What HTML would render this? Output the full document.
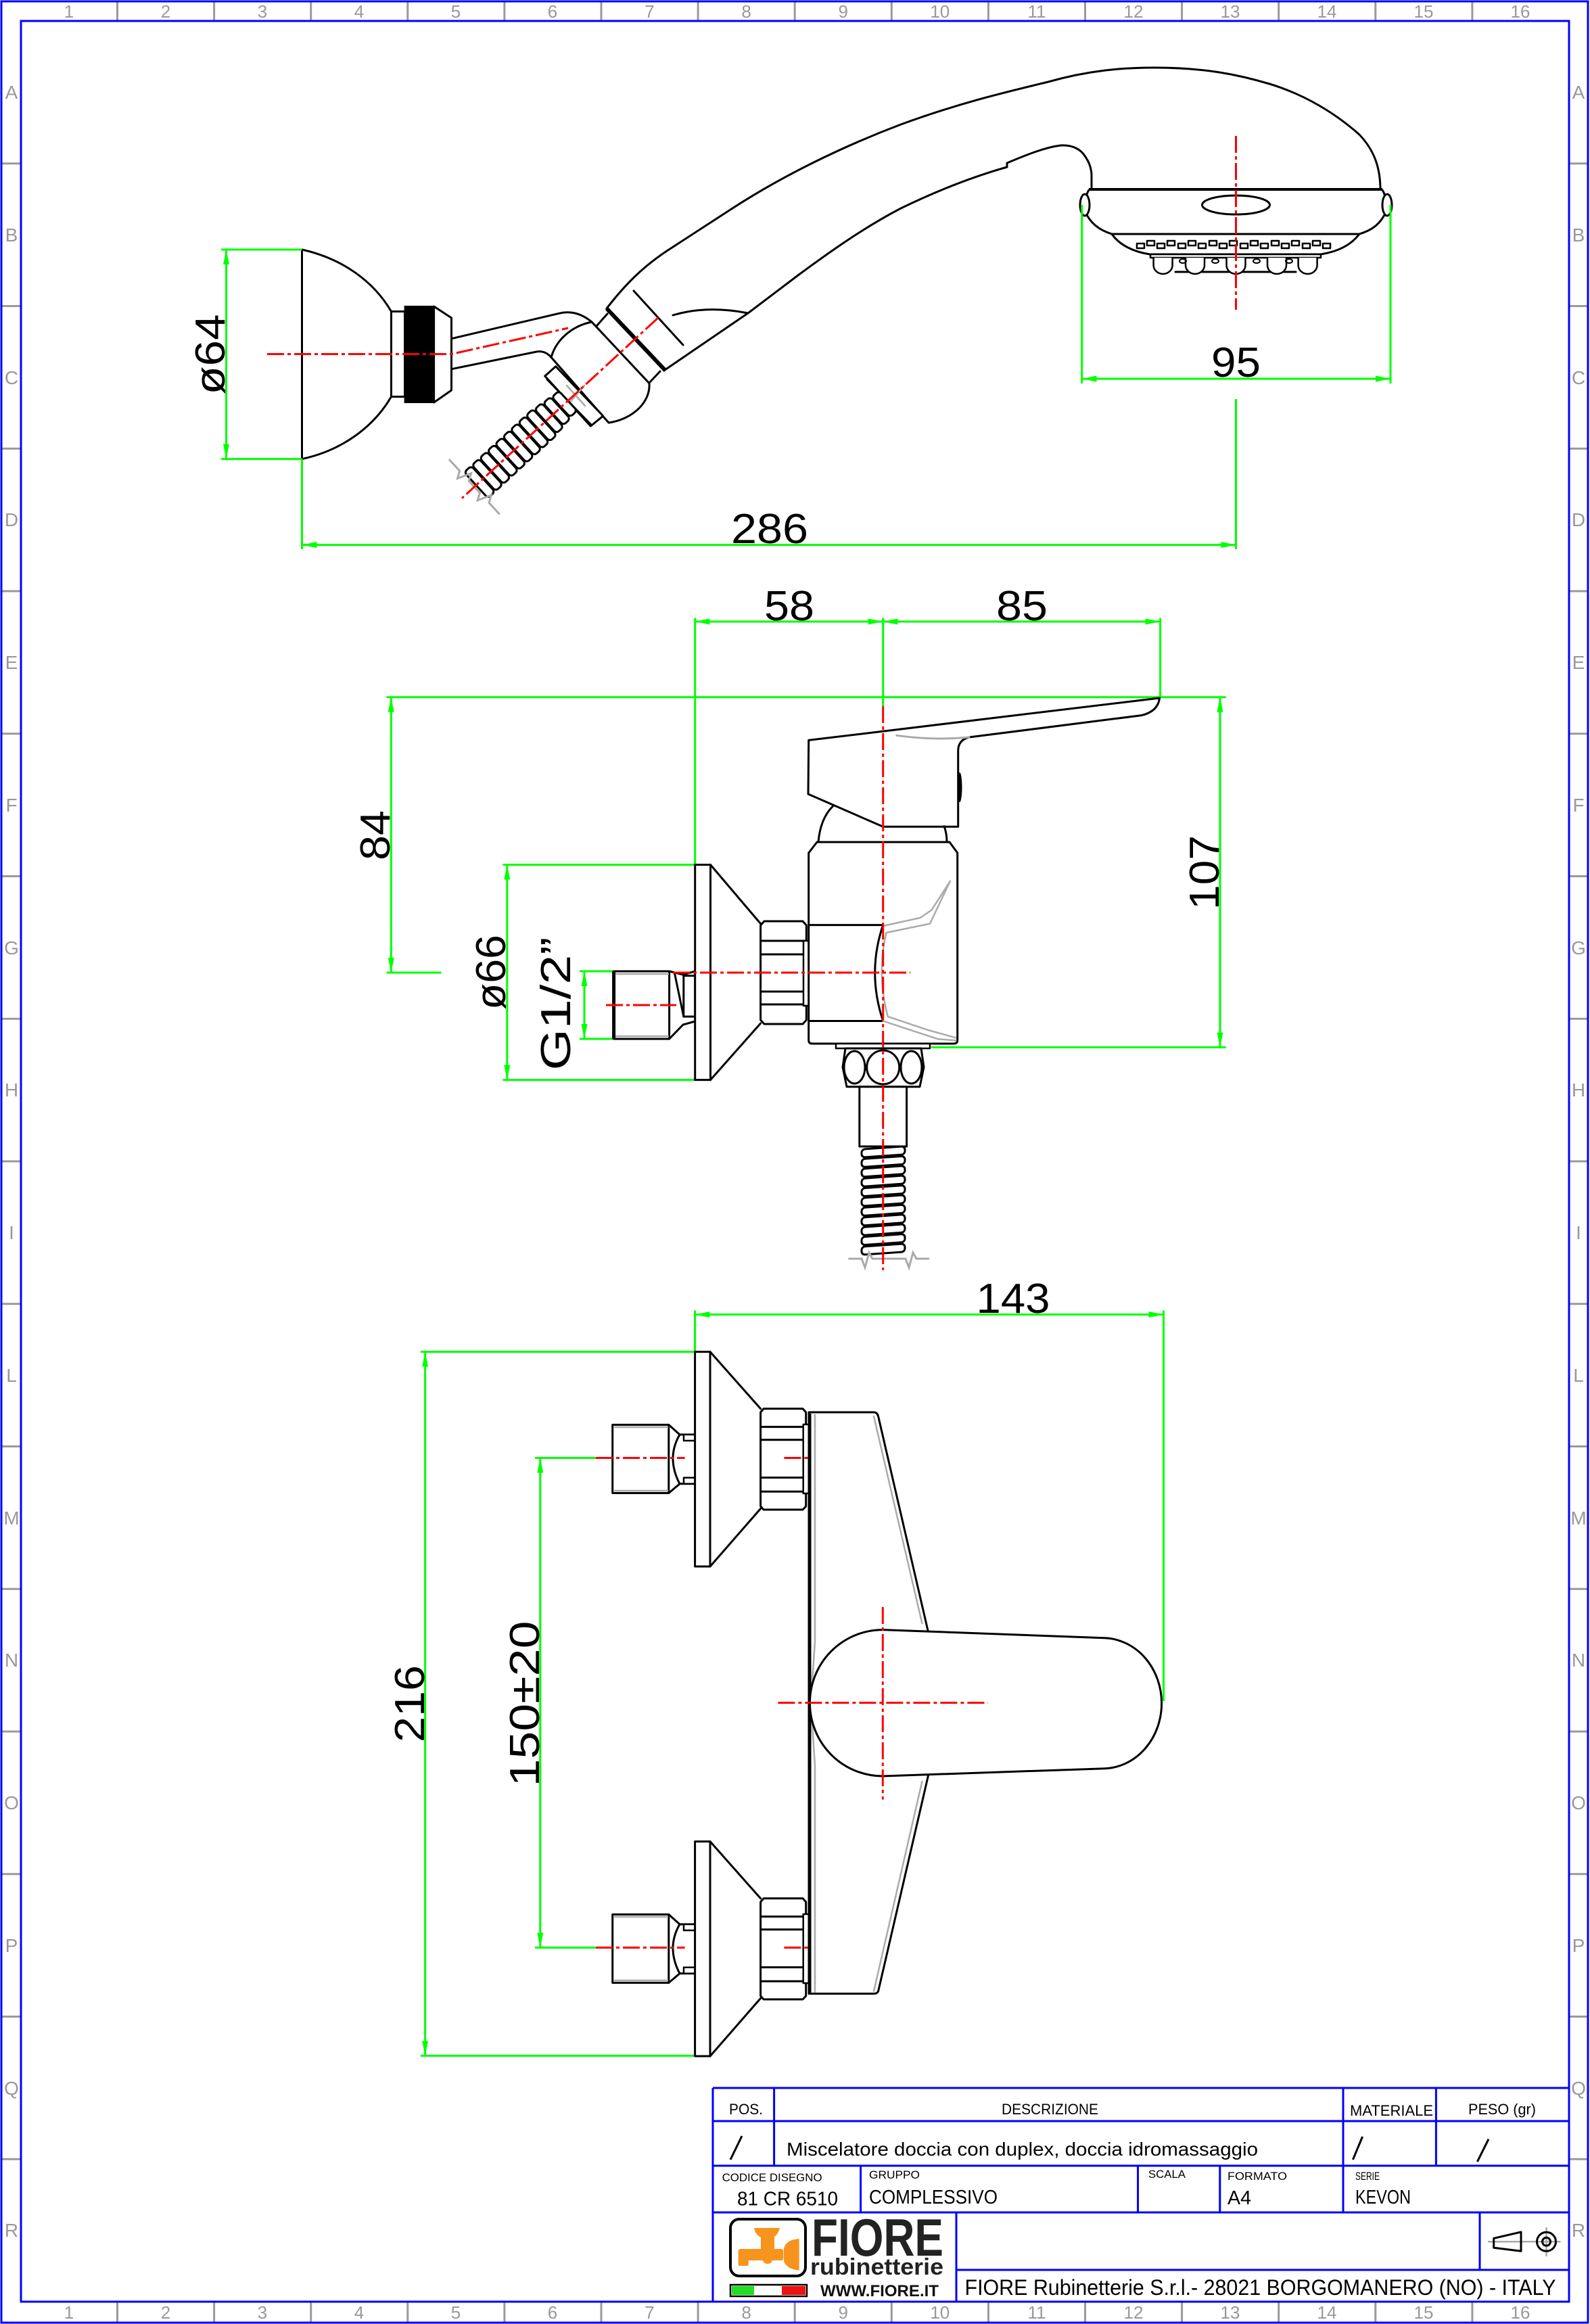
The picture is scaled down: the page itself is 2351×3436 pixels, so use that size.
<!DOCTYPE html>
<html>
<head>
<meta charset="utf-8">
<style>
html,body{margin:0;padding:0;background:#fff;}
svg{display:block;}
.k{fill:none;stroke:#000;stroke-width:3;stroke-linejoin:round;stroke-linecap:round;}
.kw{fill:#fff;stroke:#000;stroke-width:3;stroke-linejoin:round;}
.g{fill:none;stroke:#aaa;stroke-width:3;stroke-linecap:round;}
.r{fill:none;stroke:#ff0000;stroke-width:3;stroke-dasharray:25 5 5 5;}
.d{fill:none;stroke:#00ff00;stroke-width:3;}
.da{fill:none;stroke:#00ff00;stroke-width:3;marker-start:url(#ar);marker-end:url(#ar);}
.dt{font-family:"Liberation Sans",sans-serif;font-size:62px;fill:#000;}
.rl{font-family:"Liberation Sans",sans-serif;font-size:26px;fill:#999;text-anchor:middle;}
.rs{font-family:"Liberation Sans",sans-serif;font-size:28px;fill:#999;text-anchor:middle;}
.tb{font-family:"Liberation Sans Narrow","Liberation Sans",sans-serif;fill:#000;}
.bl{fill:none;stroke:#0000ff;stroke-width:3;}
.gt{stroke:#999;stroke-width:3;}
</style>
</head>
<body>
<svg width="2351" height="3436" viewBox="0 0 2351 3436" xmlns="http://www.w3.org/2000/svg">
<defs>
<marker id="ar" viewBox="0 0 22 9" refX="22" refY="4.5" markerWidth="22" markerHeight="9" markerUnits="userSpaceOnUse" orient="auto-start-reverse">
<path d="M0,0 L22,4.5 L0,9 z" fill="#00ff00"/>
</marker>
</defs>
<rect x="0" y="0" width="2351" height="3436" fill="#fff"/>

<!-- ===== FRAME ===== -->
<g class="gt">
<line x1="173.5" y1="2" x2="173.5" y2="31"/><line x1="316.6" y1="2" x2="316.6" y2="31"/><line x1="459.7" y1="2" x2="459.7" y2="31"/><line x1="602.8" y1="2" x2="602.8" y2="31"/><line x1="745.9" y1="2" x2="745.9" y2="31"/><line x1="889" y1="2" x2="889" y2="31"/><line x1="1032.1" y1="2" x2="1032.1" y2="31"/><line x1="1175.2" y1="2" x2="1175.2" y2="31"/><line x1="1318.3" y1="2" x2="1318.3" y2="31"/><line x1="1461.4" y1="2" x2="1461.4" y2="31"/><line x1="1604.5" y1="2" x2="1604.5" y2="31"/><line x1="1747.6" y1="2" x2="1747.6" y2="31"/><line x1="1890.7" y1="2" x2="1890.7" y2="31"/><line x1="2033.8" y1="2" x2="2033.8" y2="31"/><line x1="2176.9" y1="2" x2="2176.9" y2="31"/>
<line x1="173.5" y1="3403" x2="173.5" y2="3434"/><line x1="316.6" y1="3403" x2="316.6" y2="3434"/><line x1="459.7" y1="3403" x2="459.7" y2="3434"/><line x1="602.8" y1="3403" x2="602.8" y2="3434"/><line x1="745.9" y1="3403" x2="745.9" y2="3434"/><line x1="889" y1="3403" x2="889" y2="3434"/><line x1="1032.1" y1="3403" x2="1032.1" y2="3434"/><line x1="1175.2" y1="3403" x2="1175.2" y2="3434"/><line x1="1318.3" y1="3403" x2="1318.3" y2="3434"/><line x1="1461.4" y1="3403" x2="1461.4" y2="3434"/><line x1="1604.5" y1="3403" x2="1604.5" y2="3434"/><line x1="1747.6" y1="3403" x2="1747.6" y2="3434"/><line x1="1890.7" y1="3403" x2="1890.7" y2="3434"/><line x1="2033.8" y1="3403" x2="2033.8" y2="3434"/><line x1="2176.9" y1="3403" x2="2176.9" y2="3434"/>
<line x1="2" y1="241.75" x2="31" y2="241.75"/><line x1="2" y1="452.5" x2="31" y2="452.5"/><line x1="2" y1="663.25" x2="31" y2="663.25"/><line x1="2" y1="874" x2="31" y2="874"/><line x1="2" y1="1084.75" x2="31" y2="1084.75"/><line x1="2" y1="1295.5" x2="31" y2="1295.5"/><line x1="2" y1="1506.25" x2="31" y2="1506.25"/><line x1="2" y1="1717" x2="31" y2="1717"/><line x1="2" y1="1927.75" x2="31" y2="1927.75"/><line x1="2" y1="2138.5" x2="31" y2="2138.5"/><line x1="2" y1="2349.25" x2="31" y2="2349.25"/><line x1="2" y1="2560" x2="31" y2="2560"/><line x1="2" y1="2770.75" x2="31" y2="2770.75"/><line x1="2" y1="2981.5" x2="31" y2="2981.5"/><line x1="2" y1="3192.25" x2="31" y2="3192.25"/>
<line x1="2320" y1="241.75" x2="2348" y2="241.75"/><line x1="2320" y1="452.5" x2="2348" y2="452.5"/><line x1="2320" y1="663.25" x2="2348" y2="663.25"/><line x1="2320" y1="874" x2="2348" y2="874"/><line x1="2320" y1="1084.75" x2="2348" y2="1084.75"/><line x1="2320" y1="1295.5" x2="2348" y2="1295.5"/><line x1="2320" y1="1506.25" x2="2348" y2="1506.25"/><line x1="2320" y1="1717" x2="2348" y2="1717"/><line x1="2320" y1="1927.75" x2="2348" y2="1927.75"/><line x1="2320" y1="2138.5" x2="2348" y2="2138.5"/><line x1="2320" y1="2349.25" x2="2348" y2="2349.25"/><line x1="2320" y1="2560" x2="2348" y2="2560"/><line x1="2320" y1="2770.75" x2="2348" y2="2770.75"/><line x1="2320" y1="2981.5" x2="2348" y2="2981.5"/><line x1="2320" y1="3192.25" x2="2348" y2="3192.25"/>
</g>
<rect x="2" y="2" width="2346" height="3432" class="bl"/>
<rect x="31" y="31" width="2289" height="3372" class="bl"/>

<g class="rl">
<text x="102" y="26">1</text><text x="245" y="26">2</text><text x="388" y="26">3</text><text x="531" y="26">4</text><text x="674" y="26">5</text><text x="817" y="26">6</text><text x="960.5" y="26">7</text><text x="1103.6" y="26">8</text><text x="1246.7" y="26">9</text><text x="1389.8" y="26">10</text><text x="1533" y="26">11</text><text x="1676" y="26">12</text><text x="1819" y="26">13</text><text x="1962" y="26">14</text><text x="2105" y="26">15</text><text x="2248" y="26">16</text>
<text x="102" y="3428">1</text><text x="245" y="3428">2</text><text x="388" y="3428">3</text><text x="531" y="3428">4</text><text x="674" y="3428">5</text><text x="817" y="3428">6</text><text x="960.5" y="3428">7</text><text x="1103.6" y="3428">8</text><text x="1246.7" y="3428">9</text><text x="1389.8" y="3428">10</text><text x="1533" y="3428">11</text><text x="1676" y="3428">12</text><text x="1819" y="3428">13</text><text x="1962" y="3428">14</text><text x="2105" y="3428">15</text><text x="2248" y="3428">16</text>
</g>
<g class="rs">
<text x="17" y="146">A</text><text x="17" y="357">B</text><text x="17" y="568">C</text><text x="17" y="778">D</text><text x="17" y="989">E</text><text x="17" y="1200">F</text><text x="17" y="1411">G</text><text x="17" y="1621">H</text><text x="17" y="1832">I</text><text x="17" y="2043">L</text><text x="17" y="2254">M</text><text x="17" y="2464">N</text><text x="17" y="2675">O</text><text x="17" y="2886">P</text><text x="17" y="3097">Q</text><text x="17" y="3307">R</text>
<text x="2334" y="146">A</text><text x="2334" y="357">B</text><text x="2334" y="568">C</text><text x="2334" y="778">D</text><text x="2334" y="989">E</text><text x="2334" y="1200">F</text><text x="2334" y="1411">G</text><text x="2334" y="1621">H</text><text x="2334" y="1832">I</text><text x="2334" y="2043">L</text><text x="2334" y="2254">M</text><text x="2334" y="2464">N</text><text x="2334" y="2675">O</text><text x="2334" y="2886">P</text><text x="2334" y="3097">Q</text><text x="2334" y="3307">R</text>
</g>

<!-- ===== TOP VIEW: shower support + handshower ===== -->
<path class="k" d="M446.5,369 L446.5,678.6"/>
<path class="k" d="M446.5,369 C505,382 552,415 578.5,460.5 M446.5,678.6 C505,666 552,632 578.5,586.5"/>
<rect x="578.5" y="460.5" width="20" height="126" class="kw"/>
<rect x="598.6" y="453" width="43" height="142" fill="#000" stroke="#000" stroke-width="2"/>
<path class="kw" d="M641.6,453 L667.5,470 L667.5,577 L641.6,595 Z"/>
<path class="k" d="M667.5,500.7 L826.7,463.3 Q852,457 875,476"/>
<path class="k" d="M667.5,545.7 L793.3,520 Q806,518 815,528.3"/>
<path class="k" d="M815,528.3 C822,503 845,482 875,476 L960,566.7 C962,595 935,620 900,625 L815,528.3"/>
<path class="kw" d="M805.7,556 L821.7,541.7 L891.7,615 L873.3,630 Z"/>
<path class="k" d="M809,561 L874,628"/>
<path class="g" d="M838,570 L865,600 M864,570 L838,600" style="stroke-width:2.5"/>
<path class="k" d="M882,482 L898,464 M960,566 L976,549"/>
<path d="M897,456 L984,548" stroke="#000" stroke-width="6" fill="none"/>
<path class="k" d="M897,456 C925,420 950,395 986,371 L1083,308 C1160,258 1250,215 1332,184 C1420,152 1480,138 1550,121 C1610,104 1660,100 1707,100 C1780,100 1830,110 1877,124 C1930,140 1975,168 2010,199 C2030,220 2041,245 2041,280"/>
<path class="k" d="M983,547 L1106,463 L1180,407 C1230,370 1280,335 1332,308 C1400,275 1450,258 1489,247 L1489,241 C1520,228 1545,218 1568,215 C1585,214 1598,220 1605,232 C1612,242 1614,252 1614,260 L1614,280"/>
<path class="k" d="M937,430 L1010,510"/>
<path class="k" d="M995,466 Q1045,451 1106,463"/>
<path d="M1610,280 L2044,280" stroke="#000" stroke-width="4"/>
<path class="k" d="M1610,281 C1604,290 1606,300 1604,312 C1612,330 1625,340 1644,346 L2010,346 C2030,340 2042,330 2050,312 C2048,300 2050,290 2044,281"/>
<ellipse cx="1604" cy="303" rx="7" ry="16" class="kw"/>
<ellipse cx="2051" cy="303" rx="7" ry="16" class="kw"/>
<ellipse cx="1827.5" cy="303" rx="50" ry="14" class="k"/>
<path class="k" d="M1644,346 C1655,362 1675,372 1700,376 L1953,376 C1978,372 1998,362 2010,346"/>
<g class="k" style="stroke-width:2.5">
<rect x="1681" y="360" width="11" height="7"/><rect x="1696" y="356" width="11" height="7"/><rect x="1711" y="360" width="11" height="7"/><rect x="1726" y="356" width="11" height="7"/><rect x="1742" y="360" width="11" height="7"/><rect x="1757" y="356" width="11" height="7"/><rect x="1772" y="360" width="11" height="7"/><rect x="1788" y="356" width="11" height="7"/><rect x="1803" y="360" width="11" height="7"/><rect x="1818" y="356" width="11" height="7"/><rect x="1834" y="360" width="11" height="7"/><rect x="1849" y="356" width="11" height="7"/><rect x="1864" y="360" width="11" height="7"/><rect x="1880" y="356" width="11" height="7"/><rect x="1895" y="360" width="11" height="7"/><rect x="1910" y="356" width="11" height="7"/><rect x="1926" y="360" width="11" height="7"/><rect x="1941" y="356" width="11" height="7"/><rect x="1956" y="360" width="11" height="7"/>
</g>
<rect x="1701" y="376" width="252" height="5" class="kw" style="stroke-width:2.5"/>
<path class="k" d="M1738,402 L1916,402"/>
<g class="kw" style="stroke-width:2.5">
<path d="M1705.6,381 v11 a14,13 0 0 0 28,0 v-11"/>
<path d="M1753,381 v11 a14,13 0 0 0 28,0 v-11"/>
<path d="M1813.5,381 v11 a14,13 0 0 0 28,0 v-11"/>
<path d="M1874,381 v11 a14,13 0 0 0 28,0 v-11"/>
<path d="M1919.6,381 v11 a14,13 0 0 0 28,0 v-11"/>
</g>
<g class="k" style="stroke-width:2">
<ellipse cx="1749" cy="386" rx="5" ry="3"/><ellipse cx="1797" cy="386" rx="5" ry="3"/><ellipse cx="1858" cy="386" rx="5" ry="3"/><ellipse cx="1906" cy="386" rx="5" ry="3"/>
</g>
<g transform="translate(973,470) rotate(137.4)">
<g class="kw">
<rect x="181" y="-20" width="14" height="40" rx="5"/>
<rect x="196.5" y="-22" width="14" height="44" rx="5"/>
<rect x="212" y="-24" width="14" height="48" rx="5"/>
<rect x="227.5" y="-26" width="14" height="52" rx="5"/>
<rect x="243" y="-26" width="14" height="52" rx="5"/>
<rect x="258.5" y="-26" width="14" height="52" rx="5"/>
<rect x="274" y="-26" width="14" height="52" rx="5"/>
<rect x="289.5" y="-26" width="14" height="52" rx="5"/>
<rect x="305" y="-26" width="14" height="52" rx="5"/>
<rect x="320.5" y="-26" width="14" height="52" rx="5"/>
<rect x="336" y="-26" width="14" height="52" rx="5"/>
<rect x="351.5" y="-26" width="14" height="52" rx="5"/>
</g>
<path class="g" d="M369,-54 L369,-32 L359,-26 L379,-18 L369,-12 L369,12 L359,18 L379,26 L369,32 L369,54"/>
<line x1="0" y1="0" x2="394" y2="0" class="r"/>
</g>
<path class="r" d="M395,523.5 L667.5,523.5 L840,485"/>
<line x1="1827.5" y1="201" x2="1827.5" y2="458" class="r"/>
<path class="d" d="M327,369 L446.5,369 M327,678.6 L446.5,678.6 M446.5,678.6 L446.5,812 M1827.5,590 L1827.5,812 M1599.7,303 L1599.7,567 M2056,303 L2056,567"/>
<line x1="334.5" y1="369" x2="334.5" y2="678.6" class="da"/>
<line x1="1599.7" y1="560" x2="2056" y2="560" class="da"/>
<line x1="446.5" y1="805.6" x2="1827.5" y2="805.6" class="da"/>
<text class="dt" x="1827.5" y="557" text-anchor="middle" textLength="73" lengthAdjust="spacingAndGlyphs">95</text>
<text class="dt" x="1138" y="803" text-anchor="middle" textLength="114" lengthAdjust="spacingAndGlyphs">286</text>
<text class="dt" transform="translate(332,524) rotate(-90)" text-anchor="middle" textLength="119" lengthAdjust="spacingAndGlyphs">ø64</text>

<!-- ===== MIDDLE VIEW: side ===== -->
<path class="d" d="M1027.7,913.6 L1027.7,1278.5 M1305.7,913.6 L1305.7,1044 M1715.6,913.6 L1715.6,1030.8 M571.5,1030.8 L1812.7,1030.8 M571.5,1438 L652.4,1438 M1377,1548.4 L1812.7,1548.4 M743.5,1278.5 L1027.7,1278.5 M743.5,1596.6 L1027.7,1596.6 M857,1436 L907.6,1436 M857,1536 L907.6,1536"/>
<line x1="1027.7" y1="919" x2="1305.7" y2="919" class="da"/>
<line x1="1305.7" y1="919" x2="1715.6" y2="919" class="da"/>
<line x1="578.3" y1="1030.8" x2="578.3" y2="1438" class="da"/>
<line x1="1804" y1="1030.8" x2="1804" y2="1548.4" class="da"/>
<line x1="749.8" y1="1278.5" x2="749.8" y2="1596.6" class="da"/>
<line x1="864" y1="1436" x2="864" y2="1536" class="da"/>
<text class="dt" x="1167" y="917" text-anchor="middle" textLength="74" lengthAdjust="spacingAndGlyphs">58</text>
<text class="dt" x="1511" y="917" text-anchor="middle" textLength="76" lengthAdjust="spacingAndGlyphs">85</text>
<text class="dt" transform="translate(576,1235) rotate(-90)" text-anchor="middle" textLength="74" lengthAdjust="spacingAndGlyphs">84</text>
<text class="dt" transform="translate(1802,1290) rotate(-90)" text-anchor="middle" textLength="110" lengthAdjust="spacingAndGlyphs">107</text>
<text class="dt" transform="translate(747,1437.5) rotate(-90)" text-anchor="middle" textLength="111" lengthAdjust="spacingAndGlyphs">ø66</text>
<text class="dt" transform="translate(843,1484) rotate(-90)" text-anchor="middle" textLength="197" lengthAdjust="spacingAndGlyphs">G1/2”</text>
<rect x="907.6" y="1436" width="82" height="100" class="kw"/>
<line x1="907.6" y1="1436" x2="907.6" y2="1536" stroke="#000" stroke-width="5"/>
<path class="g" d="M911,1440 L988,1440 M911,1532 L988,1532" style="stroke-width:2.5"/>
<path class="k" d="M989.6,1436 L1010,1441 L1027.7,1436 M989.6,1536 L1010,1515 L1027.7,1510 M997.5,1439 L1010.8,1503"/>
<rect x="1010.8" y="1442.6" width="17" height="60.4" class="kw"/>
<rect x="1027.7" y="1278.5" width="22.8" height="318.1" class="kw"/>
<path class="k" d="M1050.5,1278.5 L1124.6,1365.6 M1050.5,1596.6 L1124.6,1513"/>
<path class="kw" d="M1130,1362 L1187,1362 L1192.3,1368 L1192.3,1508 L1187,1514 L1130,1514 L1124.6,1508 L1124.6,1368 Z"/>
<path class="k" d="M1126,1391 L1191,1391 M1126,1411 L1191,1411 M1126,1466 L1191,1466 M1126,1485 L1191,1485"/>
<rect x="1188" y="1391" width="9.6" height="96" class="kw" style="stroke-width:2.5"/>
<path class="kw" d="M1195.7,1094.4 L1714.6,1032 Q1712,1052 1688,1057.6 L1433,1090 Q1416.7,1094 1416.7,1110 L1416.7,1222.3 L1305.7,1222.3 L1195,1174 Z"/>
<ellipse cx="1419" cy="1164" rx="3.5" ry="22" fill="#000"/>
<path class="g" d="M1325.7,1087.3 Q1380,1095 1433,1090"/>
<path class="k" d="M1210,1245 Q1213,1210 1231.7,1191.7 M1396,1221.7 Q1400,1232 1400,1245"/>
<path class="kw" d="M1208,1245 L1404,1245 L1415.7,1261 L1415.7,1538 Q1415.7,1543 1410,1543 L1201,1543 Q1195.7,1543 1195.7,1538 L1195.7,1261 Z"/>
<path class="k" d="M1198,1367.6 L1305.7,1367.6 Q1281.7,1438 1305.7,1509.5 L1198,1509.5"/>
<path class="g" d="M1305.7,1369 L1360.7,1357 L1377.4,1345.5 L1405,1302.7 M1310.5,1379 L1375,1365.6 L1403.7,1305.3 M1310.5,1379 Q1296,1440 1312.8,1502.9 L1372.6,1523 L1413.3,1534.3 M1305.7,1509.5 L1387,1536.3 L1413.3,1538.3" style="stroke-width:2.5"/>
<rect x="1236" y="1543" width="139" height="7" class="kw" style="stroke-width:2.5"/>
<path class="kw" d="M1250,1550 L1362,1550 L1366,1578 L1360,1606.7 L1252,1606.7 L1246,1578 Z"/>
<ellipse cx="1263.5" cy="1578" rx="15.5" ry="24" class="k"/>
<ellipse cx="1305.7" cy="1578" rx="24" ry="25" class="k"/>
<ellipse cx="1347.5" cy="1578" rx="15.5" ry="24" class="k"/>
<rect x="1270.8" y="1606.7" width="69.8" height="88.3" class="kw"/>
<g transform="translate(1306,0) skewY(-4) translate(-1306,0)">
<g class="kw">
<rect x="1274" y="1697" width="64" height="12" rx="5"/><rect x="1274" y="1711.4" width="64" height="12" rx="5"/><rect x="1274" y="1725.8" width="64" height="12" rx="5"/><rect x="1274" y="1740.2" width="64" height="12" rx="5"/><rect x="1274" y="1754.6" width="64" height="12" rx="5"/><rect x="1274" y="1769" width="64" height="12" rx="5"/><rect x="1274" y="1783.4" width="64" height="12" rx="5"/><rect x="1274" y="1797.8" width="64" height="12" rx="5"/><rect x="1274" y="1812.2" width="64" height="12" rx="5"/><rect x="1274" y="1826.6" width="64" height="12" rx="5"/><rect x="1274" y="1841" width="64" height="12" rx="5"/>
</g>
</g>
<path class="g" d="M1255.5,1861 L1274,1861 L1279,1874 L1285,1852 L1290,1861 L1339,1861 L1344,1874 L1350,1852 L1355,1861 L1373,1861"/>
<line x1="1305.7" y1="1044" x2="1305.7" y2="1878" class="r"/>
<line x1="995" y1="1438" x2="1346" y2="1438" class="r"/>
<line x1="896" y1="1486" x2="1000" y2="1486" class="r"/>

<!-- ===== BOTTOM VIEW: front ===== -->
<path class="d" d="M1027.6,1937.4 L1027.6,1998.6 M1720.5,1937.4 L1720.5,2515 M622,1998.6 L1027.6,1998.6 M622,3039.4 L1027.6,3039.4 M791,2155.5 L881,2155.5 M791,2879.5 L881,2879.5"/>
<line x1="1027.6" y1="1943.5" x2="1720.5" y2="1943.5" class="da"/>
<line x1="628.6" y1="1998.6" x2="628.6" y2="3039.4" class="da"/>
<line x1="798.8" y1="2155.5" x2="798.8" y2="2879.5" class="da"/>
<text class="dt" x="1498" y="1941" text-anchor="middle" textLength="109" lengthAdjust="spacingAndGlyphs">143</text>
<text class="dt" transform="translate(627,2519) rotate(-90)" text-anchor="middle" textLength="114" lengthAdjust="spacingAndGlyphs">216</text>
<text class="dt" transform="translate(797,2519) rotate(-90)" text-anchor="middle" textLength="245" lengthAdjust="spacingAndGlyphs">150±20</text>

<g id="inl">
<rect x="905.7" y="2106.5" width="83.1" height="101" class="kw"/>
<path class="g" d="M909,2110 L987,2110 M909,2204 L987,2204" style="stroke-width:2.5"/>
<path class="k" d="M988.8,2106.5 L1005,2121 L1027.6,2121 M988.8,2207.5 L1005,2193.8 L1027.6,2193.8 M1005,2121 Q985,2155.5 1005,2193.8"/>
<rect x="1011" y="2121" width="16.6" height="9" class="kw" style="stroke-width:2.5"/>
<rect x="1011" y="2184.8" width="16.6" height="9" class="kw" style="stroke-width:2.5"/>
<rect x="1027.6" y="1998.6" width="22.4" height="317.4" class="kw"/>
<path class="k" d="M1050,1998.6 L1124.6,2082.8 M1050,2316 L1124.6,2230.5"/>
<path class="kw" d="M1129,2082.8 L1187,2082.8 L1191.7,2088 L1191.7,2227 L1187,2232 L1129,2232 L1124.6,2227 L1124.6,2088 Z"/>
<path class="k" d="M1126,2109.6 L1190,2109.6 M1126,2128.7 L1190,2128.7 M1126,2184.6 L1190,2184.6 M1126,2205.2 L1190,2205.2"/>
<rect x="1187.7" y="2106" width="9" height="102" class="kw" style="stroke-width:2.5"/>
<line x1="881" y1="2155.5" x2="1012.6" y2="2155.5" class="r"/>
<line x1="1159.4" y1="2155.5" x2="1254" y2="2155.5" class="r"/>
</g>
<use href="#inl" transform="translate(0,724)"/>

<path class="kw" d="M1196,2088 L1292,2088 Q1297,2088 1298.6,2094 L1372.3,2412 L1372.3,2626 L1298.6,2944 Q1297,2947.6 1292,2947.6 L1196,2947.6 Z"/>
<line x1="1198.5" y1="2090" x2="1198.5" y2="2946" stroke="#000" stroke-width="2"/>
<path class="g" d="M1205,2092 L1205,2427 L1199,2517 L1205,2611 L1205,2945 M1292,2094 L1363.4,2400 M1363.4,2634 L1292,2944" style="stroke-width:2.5"/>
<path class="kw" d="M1305.3,2409.6 L1633.4,2421.8 A87,96.5 0 0 1 1633.4,2614.7 L1305.3,2626 A108,108.2 0 0 1 1305.3,2409.6 Z"/>
<line x1="1150.4" y1="2517.5" x2="1460.7" y2="2517.5" class="r"/>
<line x1="1305.3" y1="2376" x2="1305.3" y2="2660.6" class="r"/>

<!-- ===== TITLE BLOCK ===== -->
<g class="bl">
<path d="M1054,3087 L2320,3087 M1054,3136 L2320,3136 M1054,3202 L2320,3202 M1054,3271 L2320,3271 M1414,3356 L2320,3356"/>
<path d="M1054,3087 L1054,3403 M1144.6,3087 L1144.6,3202 M1986,3087 L1986,3271 M2123.4,3087 L2123.4,3202 M1272.6,3202 L1272.6,3271 M1682.5,3202 L1682.5,3271 M1803.8,3202 L1803.8,3271 M1414,3271 L1414,3403 M2188,3271 L2188,3356"/>
</g>
<g class="tb">
<text x="1078" y="3126" font-size="22" textLength="50" lengthAdjust="spacingAndGlyphs">POS.</text>
<text x="1481" y="3126" font-size="22" textLength="143" lengthAdjust="spacingAndGlyphs">DESCRIZIONE</text>
<text x="1996" y="3128" font-size="22" textLength="123" lengthAdjust="spacingAndGlyphs">MATERIALE</text>
<text x="2171" y="3126" font-size="22" textLength="100" lengthAdjust="spacingAndGlyphs">PESO (gr)</text>
<text x="1163" y="3187" font-size="28" textLength="697" lengthAdjust="spacingAndGlyphs">Miscelatore doccia con duplex, doccia idromassaggio</text>
<text x="1067.6" y="3225" font-size="17" textLength="148" lengthAdjust="spacingAndGlyphs">CODICE DISEGNO</text>
<text x="1090" y="3260.7" font-size="29" textLength="149" lengthAdjust="spacingAndGlyphs">81 CR 6510</text>
<text x="1285" y="3221" font-size="17" textLength="75" lengthAdjust="spacingAndGlyphs">GRUPPO</text>
<text x="1285" y="3258" font-size="29" textLength="190" lengthAdjust="spacingAndGlyphs">COMPLESSIVO</text>
<text x="1698" y="3220" font-size="17" textLength="55" lengthAdjust="spacingAndGlyphs">SCALA</text>
<text x="1815" y="3223" font-size="17" textLength="88" lengthAdjust="spacingAndGlyphs">FORMATO</text>
<text x="1815" y="3259" font-size="29" textLength="35" lengthAdjust="spacingAndGlyphs">A4</text>
<text x="2004" y="3223" font-size="17" textLength="36" lengthAdjust="spacingAndGlyphs">SERIE</text>
<text x="2004" y="3258" font-size="29" textLength="82" lengthAdjust="spacingAndGlyphs">KEVON</text>
<text x="1426.5" y="3393" font-size="32" textLength="874" lengthAdjust="spacingAndGlyphs">FIORE Rubinetterie S.r.l.- 28021 BORGOMANERO (NO) - ITALY</text>
</g>
<path d="M1097,3158 L1080,3193 M2014.6,3159 L2000.4,3193 M2201,3162.7 L2184.4,3196" stroke="#000" stroke-width="3"/>
<path d="M2200,3314.3 L2307.5,3314.3 M2286.5,3293 L2286.5,3336" stroke="#aaa" stroke-width="2.5"/>
<path class="k" d="M2208.7,3309.3 L2249,3300 L2249,3328.3 L2208.7,3323.3 Z"/>
<circle cx="2286.5" cy="3314.3" r="14" class="k"/>
<circle cx="2286.5" cy="3314.3" r="6" class="k"/>
<rect x="1080" y="3281" width="111" height="84" rx="13" fill="#fff" stroke="#000" stroke-width="4"/>
<g fill="#f7941d">
<path d="M1115,3294 L1153,3294 Q1150,3306 1141,3309 L1127,3309 Q1117,3305 1115,3294 Z"/>
<rect x="1125" y="3305" width="20" height="22"/>
<rect x="1091.7" y="3325" width="66.6" height="17" rx="3"/>
<rect x="1091.7" y="3338" width="15" height="12" rx="2"/>
<path d="M1128,3341 a7,6 0 0 0 14,0 Z"/>
<path d="M1159,3324 Q1163,3311 1181.7,3310 L1181.7,3356.7 Q1163,3355 1159,3343 Z"/>
</g>
<text x="1200" y="3335" font-family="Liberation Sans, sans-serif" font-size="78" font-weight="bold" fill="#222" textLength="195" lengthAdjust="spacingAndGlyphs">FIORE</text>
<text x="1198" y="3363" font-family="Liberation Sans, sans-serif" font-size="34" font-weight="bold" fill="#222" textLength="197" lengthAdjust="spacingAndGlyphs">rubinetterie</text>
<rect x="1080" y="3378" width="113" height="17" fill="#fff" stroke="#000" stroke-width="2.5"/>
<rect x="1082" y="3380" width="33" height="13" fill="#22dd22"/>
<rect x="1118" y="3380" width="34" height="13" fill="#fff"/>
<rect x="1156" y="3380" width="35" height="13" fill="#ee1111"/>
<text x="1213" y="3395" font-family="Liberation Sans, sans-serif" font-size="24" font-weight="bold" fill="#111" textLength="175" lengthAdjust="spacingAndGlyphs">WWW.FIORE.IT</text>
</svg>
</body>
</html>
